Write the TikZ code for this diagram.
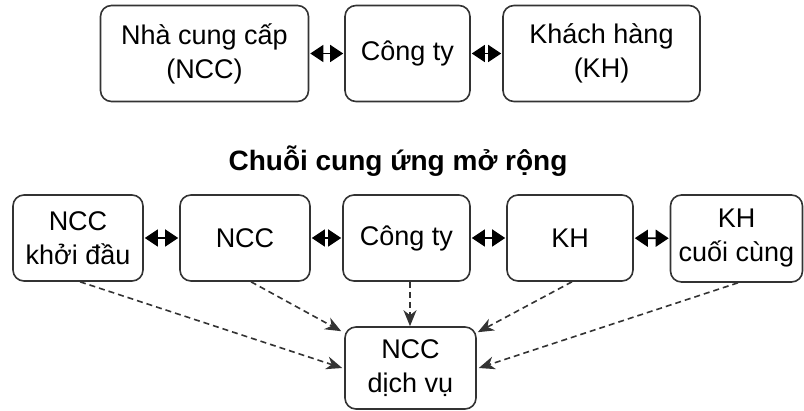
\documentclass[tikz,border=0pt]{standalone}
\usepackage{fontspec}
\setmainfont{Liberation Sans}
\usetikzlibrary{arrows.meta,positioning}
\definecolor{edge}{HTML}{333333}
\tikzset{
  box/.style={draw=edge, line width=1.6pt, rounded corners=11pt, align=center,
    font=\fontsize{27}{34}\selectfont, text=black, inner sep=0pt},
  dbl/.style={draw=black, line width=1.6pt,
    {Triangle[length=13pt,width=17pt]}-{Triangle[length=13pt,width=17pt]}, shorten <=1pt, shorten >=1pt},
  dsh/.style={draw=edge, line width=1.6pt, dash pattern=on 6pt off 4pt,
    -{Stealth[length=16pt,width=13pt,inset=5pt]}},
}
\begin{document}
\begin{tikzpicture}[x=1pt,y=-1pt]
\useasboundingbox (0,0) rectangle (804,411);
% top row
\node[box, minimum width=208pt, minimum height=96pt] (A) at (204.5,53.5) {Nhà cung cấp\\(NCC)};
\node[box, minimum width=125pt, minimum height=96pt] (B) at (407.5,53.5) {Công ty};
\node[box, minimum width=197pt, minimum height=96pt] (C) at (601.5,53.5) {Khách hàng\\(KH)};
\draw[dbl] (A) -- (B);
\draw[dbl] (B) -- (C);
% title
\node[font=\bfseries\fontsize{28}{33}\selectfont] (T) at (398,161) {Chuỗi cung ứng mở rộng};
% bottom row
\node[box, minimum width=130pt, minimum height=86pt] (D) at (78,238) {NCC\\khởi đầu};
\node[box, minimum width=130pt, minimum height=86pt] (E) at (245,238) {NCC};
\node[box, minimum width=127pt, minimum height=86pt] (F) at (406.5,238) {Công ty};
\node[box, minimum width=126pt, minimum height=86pt] (G) at (570,238) {KH};
\node[box, minimum width=132pt, minimum height=87pt] (H) at (736.5,238.5) {KH\\cuối cùng};
\draw[dbl] (D) -- (E);
\draw[dbl] (E) -- (F);
\draw[dbl] (F) -- (G);
\draw[dbl] (G) -- (H);
% service provider
\node[box, minimum width=131pt, minimum height=82pt] (S) at (410.5,368) {NCC\\dịch vụ};
\draw[dsh] ([xshift=2pt]D.south) -- ([xshift=-2pt]S.west);
\draw[dsh] ([xshift=6pt]E.south) -- ([xshift=-3pt,yshift=-5pt]S.north west);
\draw[dsh] ([xshift=3.5pt]F.south) -- ([xshift=-0.5pt]S.north);
\draw[dsh] ([xshift=2pt]G.south) -- ([xshift=1pt,yshift=-6pt]S.north east);
\draw[dsh] ([xshift=1.5pt]H.south) -- ([xshift=2pt]S.east);
\end{tikzpicture}
\end{document}
